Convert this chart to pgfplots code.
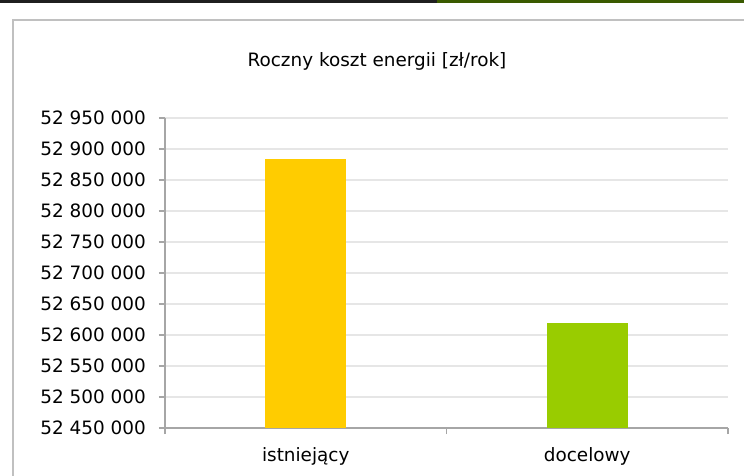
\documentclass[border=0pt]{standalone}
\usepackage{fontspec}
\setmainfont{DejaVu Sans}
\usepackage{pgfplots}
\pgfplotsset{compat=1.18}

\definecolor{axgray}{HTML}{A6A6A6}
\definecolor{gridgray}{HTML}{E6E6E6}
\definecolor{framegray}{HTML}{C0C0C0}
\definecolor{barya}{HTML}{FFCC00}
\definecolor{bargr}{HTML}{99CC00}
\definecolor{topgreen}{HTML}{3A5A00}

\newcommand{\chartfont}{\fontsize{18.4pt}{22pt}\selectfont}

\begin{document}
\begin{tikzpicture}[x=1pt,y=1pt]
  \useasboundingbox (0,0) rectangle (744,475);
  \fill[white] (0,0) rectangle (744,475);
  % strip at the top of the page
  \fill[black!88] (0,472) rectangle (437,475);
  \fill[topgreen] (437,472) rectangle (744,475);
  % chart frame
  \draw[framegray, line width=2pt] (13,-5) -- (13,455) -- (760,455);
  % title
  \node[anchor=base, font=\chartfont, inner sep=0pt] at (377,408) {Roczny koszt energii [zł/rok]};

  \begin{axis}[
    scale only axis,
    width=563pt, height=310pt,
    at={(165pt,47pt)}, anchor=south west,
    xmin=-0.5, xmax=1.5,
    ymin=52450000, ymax=52950000,
    axis lines=left,
    axis line style={-, axgray, line width=1.5pt},
    tick style={axgray, line width=1.5pt},
    tick align=outside,
    major tick length=6pt,
    xtick={-0.5,0.5,1.5},
    xticklabels={},
    extra x ticks={0,1},
    extra x tick labels={istniejący,docelowy},
    extra x tick style={major tick length=0pt, grid=none,
      tick label style={anchor=base, yshift=-33pt}},
    ytick={52450000,52500000,52550000,52600000,52650000,52700000,52750000,52800000,52850000,52900000,52950000},
    scaled y ticks=false,
    ymajorgrids,
    major grid style={gridgray, line width=1.5pt},
    tick label style={font=\chartfont},
    yticklabel style={anchor=east, inner sep=0pt, xshift=-13pt,
      /pgf/number format/.cd, fixed, precision=0, 1000 sep={\ }, assume math mode=true},
  ]
    % istniejacy
    \addplot[ybar, bar width=81pt, bar shift=0pt, fill=barya, draw=none]
      coordinates {(0,52884000)};
    % docelowy
    \addplot[ybar, bar width=81pt, bar shift=0pt, fill=bargr, draw=none]
      coordinates {(1,52619000)};
  \end{axis}
\end{tikzpicture}
\end{document}
